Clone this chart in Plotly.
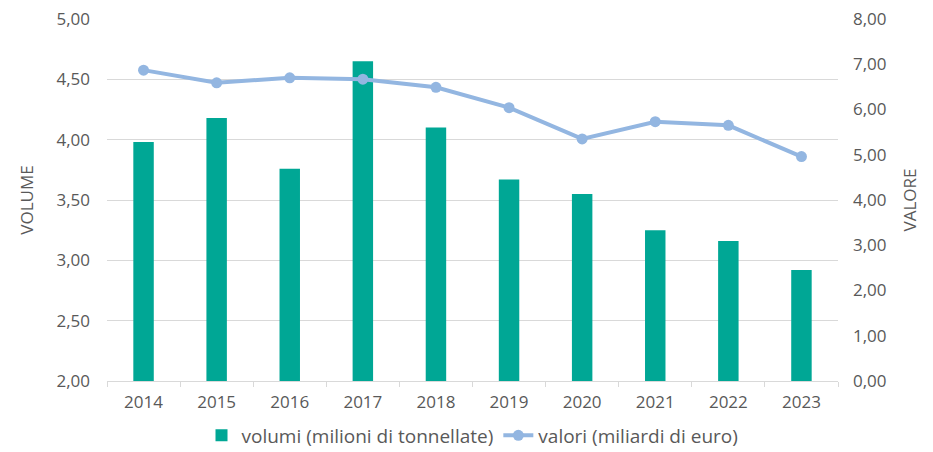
import plotly.graph_objects as go

years = ["2014", "2015", "2016", "2017", "2018", "2019", "2020", "2021", "2022", "2023"]
volumi = [3.98, 4.18, 3.76, 4.65, 4.10, 3.67, 3.55, 3.25, 3.16, 2.92]
valori = [6.87, 6.59, 6.70, 6.67, 6.49, 6.04, 5.35, 5.73, 5.65, 4.96]

FONT = "Open Sans"
GREY = "#595959"
FS = 17

fig = go.Figure()
fig.add_trace(go.Bar(
    x=years, y=volumi, name="volumi (milioni di tonnellate)",
    marker=dict(color="#00A795", line=dict(width=0)),
    yaxis="y",
))
fig.add_trace(go.Scatter(
    x=years, y=valori, name="valori (miliardi di euro)",
    mode="lines+markers",
    line=dict(color="#93B6E1", width=4),
    marker=dict(color="#93B6E1", size=11),
    yaxis="y2",
))

fig.update_layout(
    width=933, height=452,
    margin=dict(l=107, r=95, t=19, b=71, autoexpand=False),
    paper_bgcolor="white", plot_bgcolor="white",
    separators=",.",
    font=dict(family=FONT, size=FS, color=GREY),
    bargap=0.72,
    showlegend=True,
    legend=dict(orientation="h", x=0.5, xanchor="center", y=-0.098, yanchor="top",
                font=dict(size=19, color=GREY), itemwidth=30, traceorder="normal",
                tracegroupgap=0),
    xaxis=dict(
        type="category", range=[-0.5, len(years) - 0.5],
        showgrid=False, automargin=False,
        showline=True, linecolor="#d9d9d9", linewidth=1,
        ticks="outside", tickson="boundaries", ticklen=5, tickcolor="#d9d9d9",
        tickfont=dict(size=FS, color=GREY), ticklabelstandoff=6,
    ),
    yaxis=dict(
        range=[2, 5], dtick=0.5, tickformat=".2f", automargin=False,
        showgrid=True, gridcolor="#d9d9d9", gridwidth=1,
        zeroline=False, showline=False,
        title=dict(text="VOLUME", font=dict(size=FS, color=GREY), standoff=18),
        tickfont=dict(size=FS, color=GREY), ticklabelstandoff=16,
    ),
    yaxis2=dict(
        range=[0, 8], dtick=1, tickformat=".2f", automargin=False,
        overlaying="y", side="right",
        showgrid=False, zeroline=False, showline=False,
        title=dict(text="VALORE", font=dict(size=FS, color=GREY), standoff=18),
        tickfont=dict(size=FS, color=GREY), ticklabelstandoff=14,
    ),
)

fig.write_html("out.html", config={"displayModeBar": False},
               post_script="document.body.style.margin='0';")
